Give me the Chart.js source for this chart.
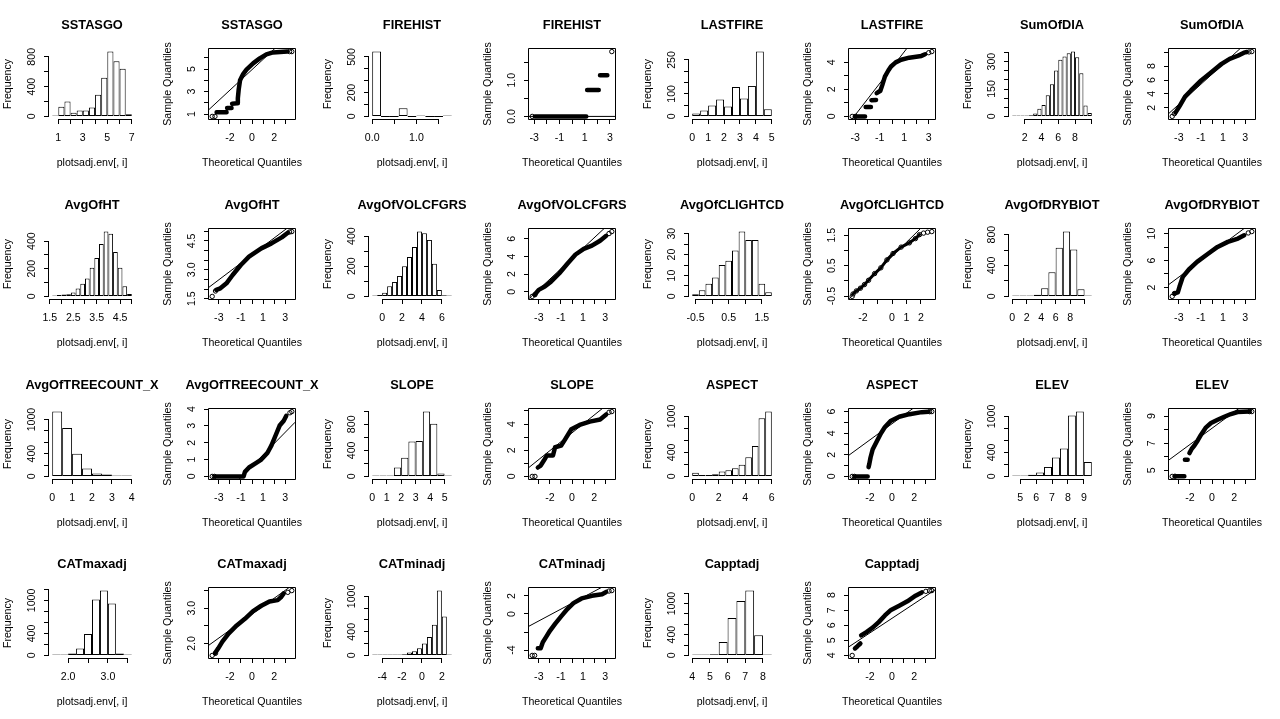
<!DOCTYPE html>
<html>
<head>
<meta charset="utf-8">
<script src="https://cdn.jsdelivr.net/npm/chart.js"></script>
<style>
  body { margin: 0; background: #fff; }
  #grid { position: relative; width: 1280px; height: 719px; overflow: hidden; }
  #grid canvas { position: absolute; }
</style>
</head>
<body>
<div id="grid"></div>
<script>
// one histogram + one normal QQ plot per variable, 8 panels per row
const variables = ['SSTASGO', 'FIREHIST', 'LASTFIRE', 'SumOfDIA', 'AvgOfHT', 'AvgOfVOLCFGRS', 'AvgOfCLIGHTCD', 'AvgOfDRYBIOT',
  'AvgOfTREECOUNT_X', 'SLOPE', 'ASPECT', 'ELEV', 'CATmaxadj', 'CATminadj', 'Capptadj'];

// histogram bin edges and counts
const histBreaks = [
  [0.5, 1, 1.5, 2, 2.5, 3, 3.5, 4, 4.5, 5, 5.5, 6, 6.5, 7],                          // SSTASGO
  [0, 0.2, 0.4, 0.6, 0.8, 1, 1.2, 1.4, 1.6, 1.8],                                    // FIREHIST
  [0, 0.5, 1, 1.5, 2, 2.5, 3, 3.5, 4, 4.5, 5],                                       // LASTFIRE
  [0.5, 1, 1.5, 2, 2.5, 3, 3.5, 4, 4.5, 5, 5.5, 6, 6.5, 7, 7.5, 8, 8.5, 9, 9.5, 10], // SumOfDIA
  [1.6, 1.8, 2, 2.2, 2.4, 2.6, 2.8, 3, 3.2, 3.4, 3.6, 3.8, 4, 4.2, 4.4, 4.6, 4.8, 5], // AvgOfHT
  [-1, -0.5, 0, 0.5, 1, 1.5, 2, 2.5, 3, 3.5, 4, 4.5, 5, 5.5, 6, 6.5, 7],             // AvgOfVOLCFGRS
  [-0.6, -0.4, -0.2, 0, 0.2, 0.4, 0.6, 0.8, 1, 1.2, 1.4, 1.6, 1.8],                  // AvgOfCLIGHTCD
  [0, 1, 2, 3, 4, 5, 6, 7, 8, 9, 10, 11],                                            // AvgOfDRYBIOT
  [0, 0.5, 1, 1.5, 2, 2.5, 3, 3.5, 4],                                               // AvgOfTREECOUNT_X
  [0, 0.5, 1, 1.5, 2, 2.5, 3, 3.5, 4, 4.5, 5, 5.5],                                  // SLOPE
  [0, 0.5, 1, 1.5, 2, 2.5, 3, 3.5, 4, 4.5, 5, 5.5, 6],                               // ASPECT
  [4.5, 5, 5.5, 6, 6.5, 7, 7.5, 8, 8.5, 9, 9.5],                                     // ELEV
  [1.6, 1.8, 2, 2.2, 2.4, 2.6, 2.8, 3, 3.2, 3.4, 3.6],                               // CATmaxadj
  [-5, -4.5, -4, -3.5, -3, -2.5, -2, -1.5, -1, -0.5, 0, 0.5, 1, 1.5, 2, 2.5, 3],     // CATminadj
  [4, 4.5, 5, 5.5, 6, 6.5, 7, 7.5, 8, 8.5]                                           // Capptadj
];
const histCounts = [
  [3, 130, 200, 50, 80, 80, 120, 290, 520, 870, 740, 640, 30],
  [545, 0, 0, 69, 0, 8, 0, 0, 1],
  [13, 26, 48, 75, 44, 130, 79, 135, 287, 32],
  [1, 1, 2, 4, 7, 16, 42, 62, 116, 176, 252, 310, 328, 346, 355, 324, 237, 60, 18],
  [3, 10, 14, 15, 29, 57, 91, 130, 208, 278, 380, 469, 453, 321, 208, 74, 17],
  [2, 9, 24, 68, 96, 136, 200, 261, 327, 430, 419, 375, 217, 42, 7, 4],
  [1, 3, 6, 9, 15, 17, 22, 31, 27, 27, 6, 2],
  [1, 5, 8, 20, 107, 312, 630, 839, 607, 94, 8],
  [1140, 850, 400, 140, 52, 35, 17, 15],
  [5, 8, 12, 135, 285, 535, 545, 995, 810, 45, 12],
  [60, 22, 22, 38, 82, 103, 136, 196, 320, 505, 967, 1080],
  [16, 5, 27, 65, 158, 315, 467, 1016, 1080, 240],
  [1, 2, 36, 127, 388, 1018, 1180, 945, 36, 2],
  [2, 3, 3, 5, 8, 15, 18, 50, 70, 120, 200, 310, 520, 1098, 660, 2],
  [5, 5, 20, 258, 720, 1050, 1250, 387, 13]
];

// histogram axes (empty label = tick without label, as R drops overlapping ones)
const histXTicks = [
  [1, 2, 3, 4, 5, 6, 7], [0, 0.5, 1, 1.5], [0, 1, 2, 3, 4, 5], [2, 4, 6, 8, 10],
  [1.5, 2, 2.5, 3, 3.5, 4, 4.5, 5], [0, 2, 4, 6], [-0.5, 0, 0.5, 1, 1.5], [0, 2, 4, 6, 8, 10],
  [0, 1, 2, 3, 4], [0, 1, 2, 3, 4, 5], [0, 1, 2, 3, 4, 5, 6], [5, 6, 7, 8, 9],
  [2, 2.5, 3, 3.5], [-4, -2, 0, 2], [4, 5, 6, 7, 8]
];
const histXLabels = [
  ['1', '', '3', '', '5', '', '7'], ['0.0', '', '1.0', ''], ['0', '1', '2', '3', '4', '5'], ['2', '4', '6', '8', ''],
  ['1.5', '', '2.5', '', '3.5', '', '4.5', ''], ['0', '2', '4', '6'], ['-0.5', '', '0.5', '', '1.5'], ['0', '2', '4', '6', '8', ''],
  ['0', '1', '2', '3', '4'], ['0', '1', '2', '3', '4', '5'], ['0', '', '2', '', '4', '', '6'], ['5', '6', '7', '8', '9'],
  ['2.0', '', '3.0', ''], ['-4', '-2', '0', '2'], ['4', '5', '6', '7', '8']
];
const histYTicks = [
  [0, 200, 400, 600, 800], [0, 100, 200, 300, 400, 500], [0, 50, 100, 150, 200, 250], [0, 50, 100, 150, 200, 250, 300, 350],
  [0, 100, 200, 300, 400], [0, 100, 200, 300, 400], [0, 5, 10, 15, 20, 25, 30], [0, 200, 400, 600, 800],
  [0, 200, 400, 600, 800, 1000], [0, 200, 400, 600, 800, 1000], [0, 200, 400, 600, 800, 1000], [0, 200, 400, 600, 800, 1000],
  [0, 200, 400, 600, 800, 1000, 1200], [0, 200, 400, 600, 800, 1000], [0, 200, 400, 600, 800, 1000, 1200]
];
const histYLabels = [
  ['0', '', '400', '', '800'], ['0', '', '200', '', '', '500'], ['0', '', '100', '', '', '250'], ['0', '', '', '150', '', '', '300', ''],
  ['0', '', '200', '', '400'], ['0', '', '200', '', '400'], ['0', '', '10', '', '20', '', '30'], ['0', '', '400', '', '800'],
  ['0', '', '400', '', '', '1000'], ['0', '', '400', '', '800', ''], ['0', '', '400', '', '', '1000'], ['0', '', '400', '', '', '1000'],
  ['0', '', '400', '', '', '1000', ''], ['0', '', '400', '', '', '1000'], ['0', '', '400', '', '', '1000', '']
];

// QQ plots: [theoretical, sample] points read along the dense band (null = gap between clusters)
const qqBand = [
  [[-3.2, 1.16], [-2.3, 1.16], null, [-2.25, 1.54], [-1.85, 1.54], null, [-1.8, 1.92], [-1.35, 1.95], [-1.28, 2.4], [-1.2, 3.2], [-1.08, 4.0], [-0.8, 4.55], [-0.5, 4.95], [0.1, 5.5], [0.7, 5.95], [1.3, 6.3], [1.9, 6.48], [3.2, 6.55]],
  [[-2.95, 0], [1.13, 0], null, [1.2, 0.73], [2.12, 0.73], null, [2.22, 1.14], [2.8, 1.14]],
  [[-3.0, 0], [-2.2, 0], null, [-2.15, 0.69], [-1.72, 0.69], null, [-1.68, 1.2], [-1.3, 1.22], null, [-1.25, 1.72], [-0.95, 1.9], [-0.8, 2.3], [-0.58, 2.95], [-0.3, 3.4], [-0.08, 3.7], [0.3, 4.0], [0.75, 4.2], [1.41, 4.35], [2.4, 4.48], [2.7, 4.6]],
  [[-3.3, 1.3], [-2.93, 2.24], [-2.45, 3.57], [-1.9, 4.5], [-0.98, 5.95], [-0.06, 7.14], [0.87, 8.33], [1.6, 9.05], [2.34, 9.5], [2.89, 9.95], [3.15, 10.05]],
  [[-3.23, 1.955], [-2.86, 2.04], [-2.31, 2.3], [-1.75, 2.73], [-1.01, 3.25], [-0.27, 3.68], [0.84, 4.11], [1.76, 4.37], [2.69, 4.68], [3.24, 4.92]],
  [[-3.38, -0.33], [-3.01, 0.22], [-2.46, 0.59], [-1.9, 1.15], [-1.16, 2.07], [-0.42, 3.18], [0.32, 4.22], [1.06, 4.85], [1.8, 5.22], [2.54, 5.78], [3.09, 6.33]],
  [[-2.69, -0.43], [-2.46, -0.33], [-2.18, -0.24], [-1.9, -0.12], [-1.62, 0.02], [-1.2, 0.24], [-0.77, 0.43], [-0.35, 0.69], [0.07, 0.9], [0.63, 1.11], [1.2, 1.25], [1.62, 1.39], [1.9, 1.52]],
  [[-3.38, 1.11], [-3.09, 1.26], [-2.94, 2.1], [-2.64, 3.58], [-2.09, 4.67], [-1.35, 5.8], [-0.42, 6.94], [0.5, 8.02], [1.43, 8.77], [2.35, 9.26], [2.91, 9.75]],
  [[-3.35, 0], [-0.76, 0], [-0.64, 0.27], [-0.27, 0.53], [0.28, 0.76], [0.84, 1.0], [1.39, 1.39], [1.76, 1.84], [2.13, 2.43], [2.5, 3.02], [2.87, 3.31], [3.1, 3.6]],
  [[-3.09, 0.68], [-2.83, 0.83], [-2.53, 1.23], [-2.27, 1.6], [-1.72, 1.6], [-1.53, 2.23], [-0.98, 2.35], [-0.61, 2.85], [-0.06, 3.6], [0.69, 3.93], [1.61, 4.18], [2.54, 4.35], [3.09, 4.73]],
  [[-3.35, 0], [-2.2, 0], null, [-2.12, 0.86], [-2.05, 1.16], [-1.94, 1.75], [-1.75, 2.49], [-1.38, 3.23], [-1.01, 3.98], [-0.64, 4.57], [-0.09, 5.16], [0.65, 5.52], [1.58, 5.76], [2.69, 5.95], [3.3, 5.98]],
  [[-3.35, 4.56], [-2.5, 4.56], null, [-2.45, 5.78], [-2.2, 5.78], null, [-2.04, 6.27], [-1.83, 6.59], [-1.59, 6.83], [-1.29, 7.2], [-0.99, 7.63], [-0.54, 8.17], [-0.09, 8.49], [0.51, 8.73], [1.11, 8.95], [1.71, 9.15], [2.31, 9.3], [3.36, 9.33]],
  [[-3.35, 1.72], [-3.05, 1.86], [-2.68, 2.05], [-2.12, 2.28], [-1.38, 2.51], [-0.64, 2.7], [0.1, 2.92], [0.84, 3.07], [1.58, 3.19], [2.32, 3.23], [2.61, 3.31], [2.87, 3.42]],
  [[-3.09, -3.8], [-2.83, -3.8], [-2.64, -3.13], [-2.35, -2.57], [-1.98, -1.84], [-1.53, -1.1], [-0.98, -0.26], [-0.42, 0.55], [0.13, 1.21], [0.87, 1.73], [1.8, 2.02], [2.72, 2.2], [3.09, 2.45]],
  [[-3.35, 4.46], [-3.12, 4.61], [-2.86, 4.79], null, [-2.79, 5.33], [-2.31, 5.55], [-1.75, 5.84], [-1.2, 6.21], [-0.64, 6.65], [-0.09, 7.02], [0.65, 7.3], [1.39, 7.59], [2.13, 7.96], [2.69, 8.18]]
];
// separate open circles at the tails (outermost ones are the extreme quantiles)
const qqEnds = [
  [[-3.6, 0.79], [-3.35, 0.79], [3.4, 6.55], [3.6, 6.55]],
  [[-3.155, 0], [3.155, 1.79]],
  [[-3.25, 0], [-3.0, 0], [3.0, 4.72], [3.25, 4.8]],
  [[-3.6, 0.76], [-3.4, 1.15], [3.35, 10.05], [3.6, 10.1]],
  [[-3.6, 1.62], [-3.3, 1.9], [3.4, 4.96], [3.6, 4.98]],
  [[-3.6, -0.52], [-3.35, -0.33], [3.35, 6.59], [3.6, 6.81]],
  [[-2.75, -0.51], [2.18, 1.57], [2.46, 1.6], [2.75, 1.62]],
  [[-3.6, 0.67], [-3.4, 1.1], [3.28, 10.1], [3.6, 10.3]],
  [[-3.6, 0], [-3.4, 0], [3.43, 3.78], [3.6, 3.85]],
  [[-3.6, 0], [-3.35, 0], [3.35, 4.9], [3.6, 4.95]],
  [[-3.6, 0], [-3.4, 0], [3.4, 5.99], [3.6, 6.0]],
  [[-3.6, 4.55], [-3.35, 4.56], [3.4, 9.33], [3.6, 9.33]],
  [[-3.6, 1.66], [-3.3, 1.72], [3.24, 3.45], [3.6, 3.5]],
  [[-3.6, -4.6], [-3.38, -4.6], [3.35, 2.55], [3.6, 2.6]],
  [[-3.6, 4.0], [3.06, 8.25], [3.4, 8.29], [3.6, 8.3]]
];
// qqline end points
const qqLine = [
  [[-3.9, 1.39], [3.9, 8.5]], [[-3.41, 0], [3.41, 0]], [[-3.51, -0.49], [3.51, 7.72]], [[-3.9, 1.19], [3.9, 12.5]],
  [[-3.9, 2.09], [3.9, 5.47]], [[-3.9, -0.78], [3.9, 8.32]], [[-2.97, -0.59], [2.97, 2.19]], [[-3.9, 2.44], [3.9, 11.98]],
  [[-3.9, -2.0], [3.9, 3.22]], [[-3.9, 0.68], [3.9, 5.97]], [[-3.9, 1.96], [3.9, 7.79]], [[-3.9, 5.76], [3.9, 10.44]],
  [[-3.9, 1.95], [3.9, 3.71]], [[-3.9, -1.36], [3.9, 3.76]], [[-3.9, 4.57], [3.9, 8.35]]
];

const oddX = [-3, -2, -1, 0, 1, 2, 3];
const qqXTicks = [oddX, oddX, oddX, oddX, oddX, oddX, [-2, -1, 0, 1, 2], oddX, oddX, oddX, oddX, oddX, oddX, oddX, oddX];
const labOdd = ['-3', '', '-1', '', '1', '', '3'];
const labEven = ['', '-2', '', '0', '', '2', ''];
const qqXLabels = [labEven, labOdd, labOdd, labOdd, labOdd, labOdd, ['-2', '', '0', '1', '2'], labOdd,
  labOdd, labEven, labEven, labEven, labEven, labOdd, labEven];
const qqYTicks = [
  [1, 2, 3, 4, 5, 6], [0, 0.5, 1, 1.5], [0, 1, 2, 3, 4], [2, 4, 6, 8, 10],
  [1.5, 2, 2.5, 3, 3.5, 4, 4.5, 5], [0, 2, 4, 6], [-0.5, 0, 0.5, 1, 1.5], [2, 4, 6, 8, 10],
  [0, 1, 2, 3, 4], [0, 1, 2, 3, 4, 5], [0, 1, 2, 3, 4, 5, 6], [5, 6, 7, 8, 9],
  [2, 2.5, 3, 3.5], [-4, -2, 0, 2], [4, 5, 6, 7, 8]
];
const qqYLabels = [
  ['1', '', '3', '', '5', ''], ['0.0', '', '1.0', ''], ['0', '', '2', '', '4'], ['2', '4', '6', '8', ''],
  ['1.5', '', '', '3.0', '', '', '4.5', ''], ['0', '2', '4', '6'], ['-0.5', '', '0.5', '', '1.5'], ['2', '', '6', '', '10'],
  ['0', '1', '2', '3', '4'], ['0', '', '2', '', '4', ''], ['0', '', '2', '', '4', '', '6'], ['5', '', '7', '', '9'],
  ['2.0', '', '3.0', ''], ['-4', '', '0', '2'], ['4', '5', '6', '7', '8']
];

const FONT = '"Liberation Sans", Arial, Helvetica, sans-serif';
const TICK_SIZE = 10.6;
const grid = document.getElementById('grid');
const measure = document.createElement('canvas').getContext('2d');

// R's default 4% axis extension
function padRange(lo, hi) {
  const d = (hi - lo) * 0.04;
  return [lo - d, hi + d];
}

// keep the rotated y labels centred on one line whatever their length
function labelPadding(labels) {
  measure.font = TICK_SIZE + 'px ' + FONT;
  const widest = Math.max(0, ...labels.map(s => measure.measureText(s).width));
  return Math.max(0, 12 - widest / 2);
}

// axis lines, box and titles the way base R draws them
const rStyle = {
  id: 'rStyle',
  afterDraw(chart, args, o) {
    const {ctx, chartArea: a} = chart;
    const {x, y} = chart.scales;
    const al = v => Math.round(v - 0.5) + 0.5;
    ctx.save();
    ctx.strokeStyle = '#000';
    ctx.lineWidth = 1;
    ctx.beginPath();
    if (o.box) {
      ctx.rect(a.left - 0.5, a.top - 0.5, a.right - a.left + 1, a.bottom - a.top + 1);
    } else {
      const xs = x.ticks.map(t => al(x.getPixelForValue(t.value)));
      const ys = y.ticks.map(t => al(y.getPixelForValue(t.value)));
      ctx.moveTo(xs[0] - 0.5, a.bottom + 0.5);
      ctx.lineTo(xs[xs.length - 1] + 0.5, a.bottom + 0.5);
      ctx.moveTo(a.left - 0.5, ys[0] + 0.5);
      ctx.lineTo(a.left - 0.5, ys[ys.length - 1] - 0.5);
    }
    ctx.stroke();
    const cx = (a.left + a.right) / 2;
    ctx.fillStyle = '#000';
    ctx.textAlign = 'center';
    ctx.textBaseline = 'middle';
    ctx.font = 'bold 12.8px ' + FONT;
    ctx.fillText(o.title, cx, 25);
    ctx.font = TICK_SIZE + 'px ' + FONT;
    ctx.fillText(o.xlab, cx, 163);
    ctx.restore();
  }
};

function axes(xRange, xTicks, xLabels, yRange, yTicks, yLabels, yTitle) {
  const tickFont = {family: FONT, size: TICK_SIZE};
  const marks = () => ({drawOnChartArea: false, offset: false, tickLength: 5, color: '#000', lineWidth: 1});
  return {
    x: {
      type: 'linear', min: xRange[0], max: xRange[1], offset: false,
      afterBuildTicks: s => { s.ticks = xTicks.map(v => ({value: v})); },
      afterFit: s => { s.height = 61; },
      grid: marks(),
      border: {display: false},
      ticks: {autoSkip: false, minRotation: 0, maxRotation: 0, padding: 7.6, color: '#000', font: tickFont,
        callback: (v, i) => xLabels[i]}
    },
    y: {
      type: 'linear', min: yRange[0], max: yRange[1],
      afterBuildTicks: s => { s.ticks = yTicks.map(v => ({value: v})); },
      afterFit: s => { s.width = 49; },
      grid: marks(),
      border: {display: false},
      ticks: {autoSkip: false, minRotation: 90, maxRotation: 90, crossAlign: 'center', padding: labelPadding(yLabels),
        color: '#000', font: tickFont, callback: (v, i) => yLabels[i]},
      title: {display: true, text: yTitle, color: '#000', font: tickFont, padding: {top: 2, bottom: 0}}
    }
  };
}

function options(scales, r) {
  return {
    responsive: false,
    animation: false,
    devicePixelRatio: 1,
    events: [],
    layout: {padding: {top: 49, right: 25, bottom: 0, left: 0}},
    scales: scales,
    plugins: {legend: {display: false}, tooltip: {enabled: false}, rStyle: r}
  };
}

function addCanvas(panel) {
  const c = document.createElement('canvas');
  c.width = 160;
  c.height = 180;
  c.style.left = (panel % 8) * 160 + 'px';
  c.style.top = Math.round(Math.floor(panel / 8) * 719 / 4) + 'px';
  grid.appendChild(c);
  return c;
}

const toXY = list => list.map(p => p ? {x: p[0], y: p[1]} : {x: null, y: null});

variables.forEach((name, i) => {
  const br = histBreaks[i];
  const counts = histCounts[i];
  const bars = counts.map((n, k) => ({x: (br[k] + br[k + 1]) / 2, y: n}));
  new Chart(addCanvas(2 * i), {
    type: 'bar',
    data: {datasets: [{
      data: bars,
      backgroundColor: '#fff',
      borderColor: '#000',
      borderSkipped: false,
      borderWidth: 1,
      barPercentage: 1,
      categoryPercentage: 1,
      minBarLength: 1,
      inflateAmount: 0
    }]},
    options: options(
      axes(padRange(br[0], br[br.length - 1]), histXTicks[i], histXLabels[i],
        padRange(0, Math.max(...counts)), histYTicks[i], histYLabels[i], 'Frequency'),
      {title: name, xlab: 'plotsadj.env[, i]', box: false}),
    plugins: [rStyle]
  });

  const ends = qqEnds[i];
  const ys = qqBand[i].filter(Boolean).concat(ends).map(p => p[1]);
  const xs = ends.map(p => p[0]);
  const sparse = name === 'AvgOfCLIGHTCD';
  new Chart(addCanvas(2 * i + 1), {
    type: 'line',
    data: {datasets: [
      {data: toXY(qqLine[i]), borderColor: '#000', borderWidth: 1, pointRadius: 0},
      {data: toXY(qqBand[i]), borderColor: '#000', borderWidth: sparse ? 3 : 4.5, borderCapStyle: 'round',
        borderJoinStyle: 'round', spanGaps: false, pointRadius: sparse ? 2.2 : 0, pointBorderWidth: 1,
        pointBorderColor: '#000', pointBackgroundColor: 'rgba(0,0,0,0)'},
      {data: toXY(ends), showLine: false, pointRadius: 2.2, pointBorderWidth: 1,
        pointBorderColor: '#000', pointBackgroundColor: 'rgba(0,0,0,0)'}
    ]},
    options: options(
      axes(padRange(Math.min(...xs), Math.max(...xs)), qqXTicks[i], qqXLabels[i],
        padRange(Math.min(...ys), Math.max(...ys)), qqYTicks[i], qqYLabels[i], 'Sample Quantiles'),
      {title: name, xlab: 'Theoretical Quantiles', box: true}),
    plugins: [rStyle]
  });
});
</script>
</body>
</html>
